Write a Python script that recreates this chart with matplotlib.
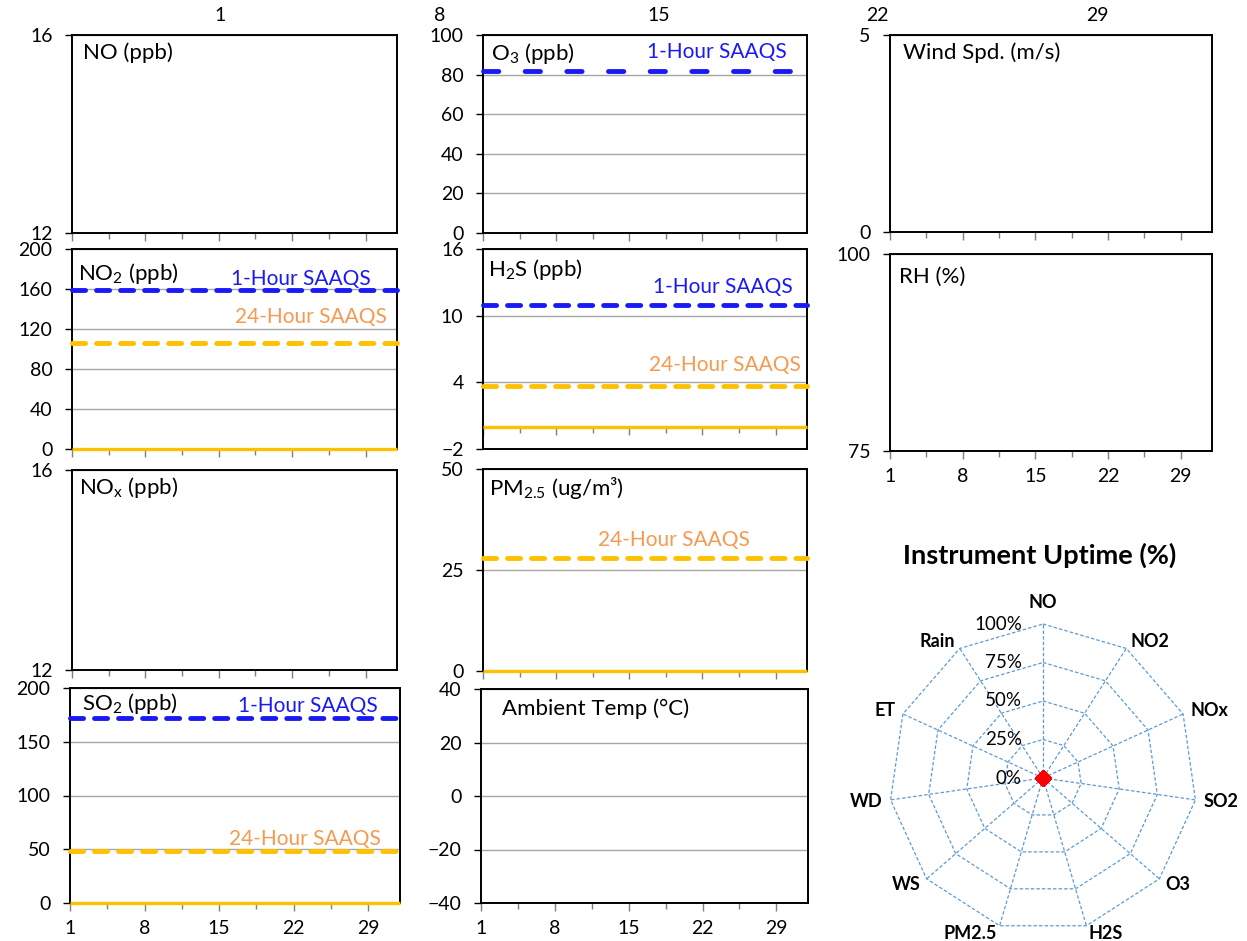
import numpy as np
import matplotlib
matplotlib.use("Agg")
import matplotlib.pyplot as plt

plt.rcParams['font.family'] = ['Lato', 'DejaVu Sans']
plt.rcParams['mathtext.fontset'] = 'custom'
plt.rcParams['mathtext.rm'] = 'Lato'
plt.rcParams['mathtext.it'] = 'Lato:italic'
plt.rcParams['mathtext.bf'] = 'Lato:bold'
plt.rcParams['lines.scale_dashes'] = False

# ===========================================================================
#  DATA
# ===========================================================================
DAYS = list(range(1, 33))                 # x axis runs 1 .. 32
DAY_TICKS = [1, 8, 15, 22, 29]
DAY_MINOR = [4.5, 11.5, 18.5, 25.5]

# measured series (every value reads 0 on the chart)
NO2_OBS = [0] * 32
H2S_OBS = [0] * 32
PM25_OBS = [0] * 32
SO2_OBS = [0] * 32

# ambient air quality standards (SAAQS)
NO2_1HR, NO2_24HR = 159, 106
O3_1HR = 82
H2S_1HR, H2S_24HR = 11, 3.7
PM25_24HR = 28
SO2_1HR, SO2_24HR = 172, 48

# instrument uptime (%)
UPTIME_LABELS = ['NO', 'NO2', 'NOx', 'SO2', 'O3', 'H2S', 'PM2.5', 'WS', 'WD', 'ET', 'Rain']
UPTIME_PCT = [0, 0, 0, 0, 0, 0, 0, 0, 0, 0, 0]
UPTIME_RINGS = [0, 25, 50, 75, 100]

# ===========================================================================
#  STYLE
# ===========================================================================
W, H = 1247, 941
BLUE = '#1A1AF5'
GOLD = '#FFC000'
ORANGE_TXT = '#F59A50'
GRID = '#A6A6A6'
TICK_FS = 14
LABEL_FS = 16
STD_FS = 15
LW_STD = 3.5
DASH_SHORT = (0, (9.4, 7.9))
DASH_LONG = (0, (11.0, 19.0))


def rect(x0, y0, x1, y1):
    """pixel box (top-left origin) -> figure fraction rect"""
    return [x0 / W, 1 - y1 / H, (x1 - x0) / W, (y1 - y0) / H]


fig = plt.figure(figsize=(W / 100, H / 100), dpi=100)


def panel(box, ylim, yticks, label, lab_off, xlabels=False, obs=None,
          stds=(), dash=DASH_SHORT, x_cross=None):
    ax = fig.add_axes(rect(*box))
    ax.set_xlim(1, 32)
    ax.set_ylim(*ylim)
    ax.set_yticks(yticks)
    ax.set_axisbelow(True)
    ax.yaxis.grid(True, color=GRID, lw=1.0)
    for s in ax.spines.values():
        s.set_linewidth(1.4)
        s.set_color('black')
    ax.tick_params(axis='y', direction='out', length=5, width=1,
                   labelsize=TICK_FS, pad=9)
    ax.set_xticks(DAY_TICKS)
    ax.set_xticks(DAY_MINOR, minor=True)
    ax.tick_params(axis='x', which='both', direction='out', color='#7F7F7F',
                   width=1, labelsize=TICK_FS, pad=6, labelbottom=xlabels)
    ax.tick_params(axis='x', which='major', length=6)
    ax.tick_params(axis='x', which='minor', length=4.5)
    if x_cross is not None:
        # x axis crosses the y axis at a data value, not at the bottom
        ax.tick_params(axis='x', which='both', bottom=False)
        frac = (x_cross - ylim[0]) / (ylim[1] - ylim[0])
        sec = ax.secondary_xaxis(frac)
        sec.set_xticks(DAY_TICKS)
        sec.set_xticks(DAY_MINOR, minor=True)
        sec.tick_params(axis='x', which='both', direction='out', color='#7F7F7F',
                        width=1, labelbottom=False)
        sec.tick_params(axis='x', which='major', length=6)
        sec.tick_params(axis='x', which='minor', length=4.5)
        sec.spines['bottom'].set_color('#A6A6A6')
    ax.annotate(label, xy=(0, 1), xycoords='axes fraction', xytext=lab_off,
                textcoords='offset pixels', ha='left', va='center', fontsize=LABEL_FS)
    for val, color, txtcol, text, off in stds:
        ax.plot(DAYS, [val] * len(DAYS), color=color, lw=LW_STD, ls=dash,
                dash_capstyle='round', zorder=3, clip_on=False)
        ax.annotate(text, xy=(1, val), xycoords=('axes fraction', 'data'),
                    xytext=off, textcoords='offset pixels', ha='right', va='center',
                    color=txtcol, fontsize=STD_FS)
    if obs is not None:
        ax.plot(DAYS, obs, color=GOLD, lw=2.4, solid_capstyle='butt', zorder=4,
                clip_on=False)
    return ax


# --- left column ---
panel((72, 35, 397, 233), (12, 16), [12, 16], 'NO (ppb)', (11, -18))
panel((72, 249, 397, 449), (0, 200), [0, 40, 80, 120, 160, 200],
      r'NO$_\mathrm{2}$ (ppb)', (6, -24), obs=NO2_OBS,
      stds=[(NO2_1HR, BLUE, BLUE, '1-Hour SAAQS', (-26, 11)),
            (NO2_24HR, GOLD, ORANGE_TXT, '24-Hour SAAQS', (-10, 26))])
panel((72, 470, 397, 670), (12, 16), [12, 16], r'NO$_\mathrm{x}$ (ppb)', (7, -18))
panel((70, 688, 400, 903), (0, 200), [0, 50, 100, 150, 200],
      r'SO$_\mathrm{2}$ (ppb)', (12, -15), xlabels=True, obs=SO2_OBS,
      stds=[(SO2_1HR, BLUE, BLUE, '1-Hour SAAQS', (-22, 12)),
            (SO2_24HR, GOLD, ORANGE_TXT, '24-Hour SAAQS', (-19, 12))])

# --- middle column ---
panel((483, 35, 807, 233), (0, 100), [0, 20, 40, 60, 80, 100],
      r'O$_\mathrm{3}$ (ppb)', (8, -18), dash=DASH_LONG,
      stds=[(O3_1HR, BLUE, BLUE, '1-Hour SAAQS', (-20, 19))])
panel((483, 249, 807, 449), (-2, 16), [-2, 4, 10, 16],
      r'H$_\mathrm{2}$S (ppb)', (5, -21), obs=H2S_OBS, x_cross=0,
      stds=[(H2S_1HR, BLUE, BLUE, '1-Hour SAAQS', (-14, 18)),
            (H2S_24HR, GOLD, ORANGE_TXT, '24-Hour SAAQS', (-6, 21))])
panel((483, 469, 807, 671), (0, 50), [0, 25, 50],
      r'PM$_\mathrm{2.5}$ (ug/m³)', (6, -19), obs=PM25_OBS,
      stds=[(PM25_24HR, GOLD, ORANGE_TXT, '24-Hour SAAQS', (-57, 18))])
panel((481, 689, 808, 903), (-40, 40), [-40, -20, 0, 20, 40],
      'Ambient Temp (°C)', (21, -20), xlabels=True)

# --- right column ---
panel((890, 35, 1212, 232), (0, 5), [0, 5], 'Wind Spd. (m/s)', (13, -18))
panel((890, 254, 1212, 451), (75, 100), [75, 100], 'RH (%)', (9, -23), xlabels=True)

# stray day labels running along the top of the sheet
top = fig.add_axes(rect(220, 24, 1097, 25))
top.set_xlim(1, 29)
top.set_xticks(DAY_TICKS)
top.set_yticks([])
top.tick_params(axis='x', bottom=False, labelbottom=False, top=True, labeltop=True,
                length=0, pad=0, labelsize=TICK_FS)
for s in top.spines.values():
    s.set_visible(False)
top.patch.set_visible(False)

# ===========================================================================
#  INSTRUMENT UPTIME RADAR
# ===========================================================================
rad = fig.add_axes(rect(889, 624, 1197, 932), projection='polar')
rad.set_theta_zero_location('N')
rad.set_theta_direction(-1)
rad.set_ylim(0, 100)
rad.set_axis_off()

n = len(UPTIME_LABELS)
angles = np.linspace(0, 2 * np.pi, n, endpoint=False)
ring_col = '#5B9BD5'
for r in UPTIME_RINGS[1:]:
    rad.plot(np.append(angles, angles[0]), [r] * (n + 1), color=ring_col,
             lw=0.9, ls=(0, (2.5, 1.5)), clip_on=False)
for a in angles:
    rad.plot([a, a], [0, 100], color=ring_col, lw=0.9, ls=(0, (2.5, 1.5)), clip_on=False)
for r in UPTIME_RINGS:
    rad.annotate(f'{r}%', xy=(0, r), xytext=(-21, 0), textcoords='offset pixels',
                 ha='right', va='center', fontsize=13.5)
for a, lab in zip(angles, UPTIME_LABELS):
    s, c = np.sin(a), np.cos(a)
    ha = 'center' if abs(s) < 0.1 else ('left' if s > 0 else 'right')
    off = (0, 22) if c > 0.9 else (8 * s, 8 * c)
    rad.annotate(lab, xy=(a, 100), xytext=off, textcoords='offset pixels',
                 ha=ha, va='center', fontsize=13, fontweight='bold',
                 annotation_clip=False)
rad.plot(angles, UPTIME_PCT, ls='none', marker='D', color='#FF0000', ms=8,
         clip_on=False, zorder=5)
fig.text(1040 / W, 1 - 555 / H, 'Instrument Uptime (%)', ha='center', va='center',
         fontsize=19.5, fontweight='bold')

fig.savefig('out.png', dpi=100)
